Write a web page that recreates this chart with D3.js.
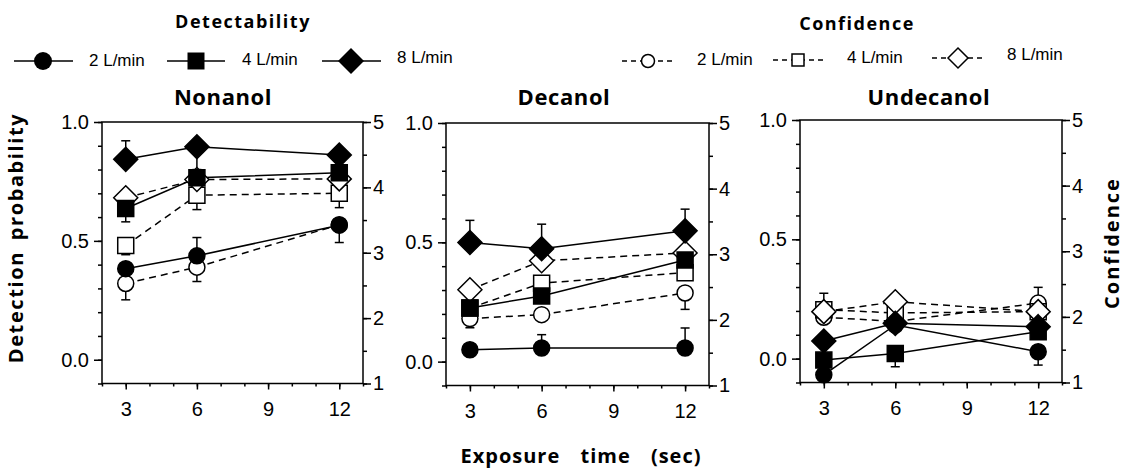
<!DOCTYPE html>
<html lang="en">
<head>
<meta charset="UTF-8">
<title>Detection probability and confidence vs exposure time</title>
<script src="https://d3js.org/d3.v7.min.js"></script>
<style>
  body { margin: 0; background: #fff; }
  svg { display: block; }
  .tick text { font-family: "Liberation Sans", Arial, sans-serif; font-size: 20px; fill: #000; }
  .tick line, .frame { stroke: #000; stroke-width: 1.5px; }
  .bold { font-family: "Open Sans", "DejaVu Sans", sans-serif; font-weight: bold; fill: #000; }
  .legend-text { font-family: "Liberation Sans", Arial, sans-serif; font-size: 17px; fill: #000; }
</style>
</head>
<body>
<svg width="1127" height="469"></svg>
<script>
const times = [3, 6, 12];
const flowLabels = ["2 L/min", "4 L/min", "8 L/min"];
const shapes = ["circle", "square", "diamond"];
const odorants = ["Nonanol", "Decanol", "Undecanol"];
const timeTicks = [3, 6, 9, 12];
const probTicks = [0, 0.5, 1.0];
const confTicks = [1, 2, 3, 4, 5];

// detection probability, rows: 2, 4, 8 L/min ; columns: 3, 6, 12 s
const nonanolDetection = [[0.383, 0.437, 0.566], [0.636, 0.765, 0.786], [0.843, 0.896, 0.861]];
const decanolDetection = [[0.050, 0.057, 0.057], [0.225, 0.275, 0.426], [0.499, 0.473, 0.548]];
const undecanolDetection = [[-0.068, 0.141, 0.029], [-0.006, 0.022, 0.113], [0.074, 0.148, 0.134]];
// end of the visible error bar (null = none shown)
const nonanolDetectionErr = [[null, 0.514, 0.493], [0.58, null, null], [0.921, 0.80, null]];
const decanolDetectionErr = [[null, 0.113, 0.141], [null, null, null], [0.592, 0.576, 0.639]];
const undecanolDetectionErr = [[null, null, -0.027], [null, -0.034, null], [null, null, null]];

// confidence rating (1-5)
const nonanolConfidence = [[2.53, 2.78, 3.43], [3.11, 3.88, 3.91], [3.84, 4.12, 4.13]];
const decanolConfidence = [[2.02, 2.08, 2.41], [2.18, 2.56, 2.72], [2.46, 2.90, 3.02]];
const undecanolConfidence = [[1.995, 1.93, 2.21], [2.11, 2.06, 2.08], [2.08, 2.23, 2.08]];
const nonanolConfidenceErr = [[2.28, 2.56, null], [2.97, 3.66, 3.69], [null, null, null]];
const decanolConfidenceErr = [[1.88, null, 2.16], [null, null, null], [null, null, null]];
const undecanolConfidenceErr = [[null, null, 2.45], [2.36, null, null], [null, null, null]];

const panels = [
  { name: odorants[0], det: nonanolDetection, detErr: nonanolDetectionErr, conf: nonanolConfidence, confErr: nonanolConfidenceErr },
  { name: odorants[1], det: decanolDetection, detErr: decanolDetectionErr, conf: decanolConfidence, confErr: decanolConfidenceErr },
  { name: odorants[2], det: undecanolDetection, detErr: undecanolDetectionErr, conf: undecanolConfidence, confErr: undecanolConfidenceErr }
];

// layout
const panelLeft = [102, 446, 800];
const panelRight = [363, 709, 1062];
const panelTop = [122, 123, 120];
const panelBottom = [383.5, 385.5, 382.5];
const titleX = [223, 564, 929];

const svg = d3.select("svg");

function shapePath(shape, s) {
  if (shape === "circle") return `M${-s},0A${s},${s} 0 1,0 ${s},0A${s},${s} 0 1,0 ${-s},0Z`;
  if (shape === "square") return `M${-s},${-s}H${s}V${s}H${-s}Z`;
  return `M0,${-s}L${s},0L0,${s}L${-s},0Z`;
}
const markerSize = { circle: 8, square: 8, diamond: 12 };

panels.forEach((p, i) => {
  const x = d3.scaleLinear().domain([2, 13]).range([panelLeft[i], panelRight[i]]);
  const y = d3.scaleLinear().domain([-0.1, 1.0]).range([panelBottom[i], panelTop[i]]);
  const yc = d3.scaleLinear().domain([1, 5]).range([panelBottom[i], panelTop[i]]);
  const g = svg.append("g");

  // minor ticks
  g.append("g").attr("transform", `translate(0,${panelBottom[i]})`)
    .call(d3.axisBottom(x).tickValues(d3.range(2, 14)).tickSize(3).tickFormat("").tickSizeOuter(0));
  g.append("g").attr("transform", `translate(${panelLeft[i]},0)`)
    .call(d3.axisLeft(y).tickValues(d3.range(-1, 11).map(d => d / 10)).tickSize(4).tickFormat("").tickSizeOuter(0));
  g.append("g").attr("transform", `translate(${panelRight[i]},0)`)
    .call(d3.axisRight(yc).tickValues(d3.range(2, 11).map(d => d / 2)).tickSize(4).tickFormat("").tickSizeOuter(0));
  // major ticks
  g.append("g").attr("transform", `translate(0,${panelBottom[i]})`)
    .call(d3.axisBottom(x).tickValues(timeTicks).tickSize(6).tickPadding(12).tickSizeOuter(0));
  g.append("g").attr("transform", `translate(${panelLeft[i]},0)`)
    .call(d3.axisLeft(y).tickValues(probTicks).tickSize(8).tickPadding(5).tickFormat(d3.format(".1f")).tickSizeOuter(0));
  g.append("g").attr("transform", `translate(${panelRight[i]},0)`)
    .call(d3.axisRight(yc).tickValues(confTicks).tickSize(8).tickPadding(2).tickFormat(d3.format("d")).tickSizeOuter(0));
  g.selectAll(".domain").remove();

  g.append("rect").attr("class", "frame")
    .attr("x", panelLeft[i]).attr("y", panelTop[i])
    .attr("width", panelRight[i] - panelLeft[i]).attr("height", panelBottom[i] - panelTop[i])
    .attr("fill", "none");

  g.append("text").attr("class", "bold")
    .attr("x", titleX[i]).attr("y", 105)
    .attr("text-anchor", "middle")
    .style("font-size", "22px").style("letter-spacing", "0.6px")
    .text(p.name);

  const series = [];
  p.conf.forEach((vals, k) => series.push({ vals, err: p.confErr[k], scale: yc, shape: shapes[k], open: true }));
  p.det.forEach((vals, k) => series.push({ vals, err: p.detErr[k], scale: y, shape: shapes[k], open: false }));

  // error bars
  series.forEach(s => {
    s.err.forEach((e, j) => {
      if (e === null) return;
      const cx = x(times[j]);
      g.append("line").attr("x1", cx).attr("x2", cx)
        .attr("y1", s.scale(s.vals[j])).attr("y2", s.scale(e))
        .attr("stroke", "#000").attr("stroke-width", 1.5);
      g.append("line").attr("x1", cx - 4.5).attr("x2", cx + 4.5)
        .attr("y1", s.scale(e)).attr("y2", s.scale(e))
        .attr("stroke", "#000").attr("stroke-width", 1.5);
    });
  });

  // lines
  series.forEach(s => {
    const line = d3.line().x((d, j) => x(times[j])).y(d => s.scale(d));
    g.append("path").attr("d", line(s.vals))
      .attr("fill", "none").attr("stroke", "#000").attr("stroke-width", 1.5)
      .attr("stroke-dasharray", s.open ? "7,5" : null);
  });

  // markers
  series.forEach(s => {
    g.selectAll(null).data(s.vals).enter().append("path")
      .attr("transform", (d, j) => `translate(${x(times[j])},${s.scale(d)})`)
      .attr("d", shapePath(s.shape, markerSize[s.shape]))
      .attr("fill", s.open ? "#fff" : "#000")
      .attr("stroke", "#000").attr("stroke-width", 1.5);
  });
});

// axis titles
svg.append("text").attr("class", "bold")
  .attr("transform", "translate(23,238) rotate(-90)")
  .attr("text-anchor", "middle")
  .style("font-size", "20px").style("letter-spacing", "1.6px").style("word-spacing", "4px")
  .text("Detection probability");
svg.append("text").attr("class", "bold")
  .attr("transform", "translate(1119,243) rotate(-90)")
  .attr("text-anchor", "middle")
  .style("font-size", "20px").style("letter-spacing", "2px")
  .text("Confidence");
svg.append("text").attr("class", "bold")
  .attr("x", 581).attr("y", 463)
  .attr("text-anchor", "middle")
  .style("font-size", "20px").style("letter-spacing", "1px").style("word-spacing", "14px")
  .text("Exposure time (sec)");

// legends
const legendTitleX = [243, 857];
const legendTitleY = [28, 30];
["Detectability", "Confidence"].forEach((t, i) => {
  svg.append("text").attr("class", "bold")
    .attr("x", legendTitleX[i]).attr("y", legendTitleY[i])
    .attr("text-anchor", "middle")
    .style("font-size", "18px").style("letter-spacing", "1.5px")
    .text(t);
});

const detLegendLine = [[14, 73], [167, 225], [322, 381]];
const detLegendMarker = [43, 196, 351];
const detLegendTextX = [89, 242, 397];
const detLegendTextY = [66, 65, 63];
const confLegendLine = [[622, 675], [773, 825], [932, 985]];
const confLegendMarker = [648, 798, 958];
const confLegendTextX = [697, 847, 1007];
const confLegendTextY = [65, 63, 60];
const confLegendMarkerY = [61, 60, 58];
const detLegendSize = { circle: 9, square: 8.5, diamond: 13 };
const confLegendSize = { circle: 6.5, square: 6, diamond: 10 };

flowLabels.forEach((lab, k) => {
  svg.append("line")
    .attr("x1", detLegendLine[k][0]).attr("x2", detLegendLine[k][1])
    .attr("y1", 61).attr("y2", 61)
    .attr("stroke", "#000").attr("stroke-width", 1.5);
  svg.append("path")
    .attr("transform", `translate(${detLegendMarker[k]},61)`)
    .attr("d", shapePath(shapes[k], detLegendSize[shapes[k]]))
    .attr("fill", "#000");
  svg.append("text").attr("class", "legend-text")
    .attr("x", detLegendTextX[k]).attr("y", detLegendTextY[k])
    .text(lab);

  const cy = confLegendMarkerY[k];
  svg.append("line")
    .attr("x1", confLegendLine[k][0]).attr("x2", confLegendLine[k][1])
    .attr("y1", cy).attr("y2", cy)
    .attr("stroke", "#000").attr("stroke-width", 1.5)
    .attr("stroke-dasharray", "5,4");
  svg.append("path")
    .attr("transform", `translate(${confLegendMarker[k]},${cy})`)
    .attr("d", shapePath(shapes[k], confLegendSize[shapes[k]]))
    .attr("fill", "#fff").attr("stroke", "#000").attr("stroke-width", 1.5);
  svg.append("text").attr("class", "legend-text")
    .attr("x", confLegendTextX[k]).attr("y", confLegendTextY[k])
    .text(lab);
});
</script>
</body>
</html>
